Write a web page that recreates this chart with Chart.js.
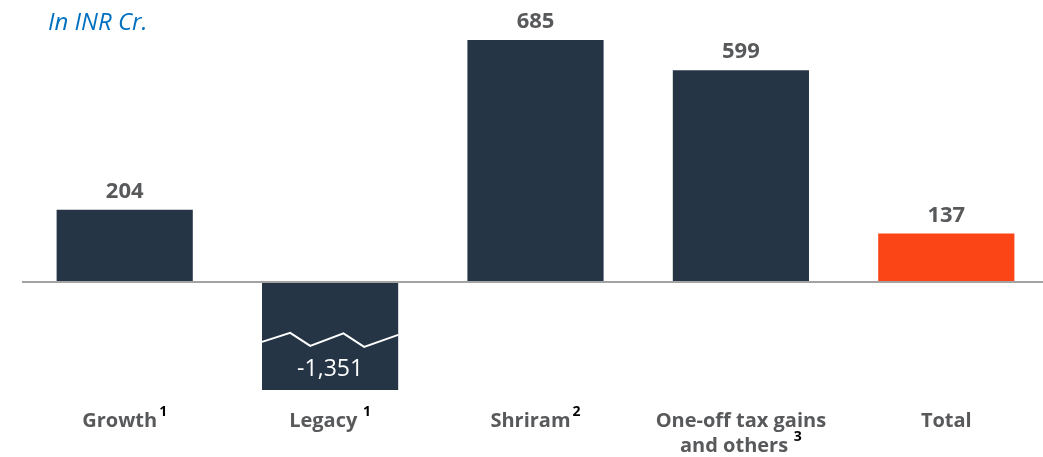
<!DOCTYPE html>
<html>
<head>
<meta charset="utf-8">
<script src="https://cdn.jsdelivr.net/npm/chart.js@4"></script>
<style>
  html, body { margin: 0; padding: 0; background: #fff; overflow: hidden; }
  #wrap { position: relative; width: 1049px; height: 457px; }
  #unit {
    position: absolute; left: 48px; top: 4px;
    font-family: "Open Sans", sans-serif; font-style: italic;
    font-size: 24px; color: #0070c0;
  }
</style>
</head>
<body>
<div id="wrap">
  <canvas id="chart"></canvas>
  <div id="unit">In INR Cr.</div>
</div>
<script>
// Data
const categories = ['Growth', 'Legacy', 'Shriram', ['One-off tax gains', 'and others'], 'Total'];
const footnotes = ['1', ' 1', '2', ' 3', ''];
const values = [204, -1351, 685, 599, 137];
const barColors = ['#253546', '#253546', '#253546', '#253546', '#fc4516'];
// Legacy bar is cut off (broken axis), so the scale stops here
const yMin = -306;
const yMax = 798;

const FONT = '"Open Sans", sans-serif';

// Value labels, axis line, broken-bar marker and category labels
const decorations = {
  id: 'decorations',
  afterDatasetsDraw(chart) {
    const ctx = chart.ctx;
    const x = chart.scales.x;
    const y = chart.scales.y;
    const meta = chart.getDatasetMeta(0);
    const zero = y.getPixelForValue(0);

    ctx.save();

    // zero line
    ctx.strokeStyle = '#a3a3a3';
    ctx.lineWidth = 2;
    ctx.beginPath();
    ctx.moveTo(chart.chartArea.left, zero);
    ctx.lineTo(chart.width, zero);
    ctx.stroke();

    meta.data.forEach((bar, i) => {
      const v = values[i];
      const half = bar.width / 2;
      ctx.textAlign = 'center';
      ctx.textBaseline = 'alphabetic';
      if (v < y.min) {
        // zigzag break marker
        const left = bar.x - half;
        const w = bar.width;
        const pts = [[0, 60], [0.207, 51], [0.354, 64], [0.598, 51.5], [0.75, 65], [1, 53]];
        ctx.strokeStyle = '#ffffff';
        ctx.lineWidth = 2;
        ctx.beginPath();
        pts.forEach((p, k) => {
          const px = left + p[0] * w;
          const py = zero + p[1];
          if (k === 0) ctx.moveTo(px, py); else ctx.lineTo(px, py);
        });
        ctx.stroke();
        ctx.fillStyle = '#ffffff';
        ctx.font = '400 23px ' + FONT;
        ctx.fillText(v.toLocaleString('en-US'), bar.x, y.bottom - 14);
      } else {
        ctx.fillStyle = '#58595b';
        ctx.font = '700 22px ' + FONT;
        ctx.fillText(v.toLocaleString('en-US'), bar.x, bar.y - 12);
      }
    });

    // category labels with footnote markers
    categories.forEach((cat, i) => {
      const cx = x.getPixelForValue(i);
      const lines = Array.isArray(cat) ? cat : [cat];
      lines.forEach((line, k) => {
        const base = 427 + k * 25;
        const isLast = k === lines.length - 1;
        ctx.font = '700 20px ' + FONT;
        const tw = ctx.measureText(line).width;
        let nw = 0;
        if (isLast && footnotes[i]) {
          ctx.font = '700 14px ' + FONT;
          nw = ctx.measureText(footnotes[i]).width + 2;
        }
        const start = cx - (tw + nw) / 2;
        ctx.textAlign = 'left';
        ctx.font = '700 20px ' + FONT;
        ctx.fillStyle = '#58595b';
        ctx.fillText(line, start, base);
        if (nw) {
          ctx.font = '700 14px ' + FONT;
          ctx.fillStyle = '#000000';
          ctx.fillText(footnotes[i], start + tw + 2, base - 11);
        }
      });
    });

    ctx.restore();
  }
};

new Chart(document.getElementById('chart'), {
  type: 'bar',
  data: {
    labels: categories,
    datasets: [{
      data: values,
      backgroundColor: barColors,
      borderWidth: 0,
      categoryPercentage: 0.663,
      barPercentage: 1,
      clip: 0
    }]
  },
  options: {
    responsive: true,
    maintainAspectRatio: false,
    animation: false,
    layout: { padding: { left: 22, right: 0, top: 0, bottom: 67 } },
    plugins: {
      legend: { display: false },
      tooltip: { enabled: false }
    },
    scales: {
      x: { display: false },
      y: { display: false, min: yMin, max: yMax }
    }
  },
  plugins: [decorations]
});
</script>
</body>
</html>
